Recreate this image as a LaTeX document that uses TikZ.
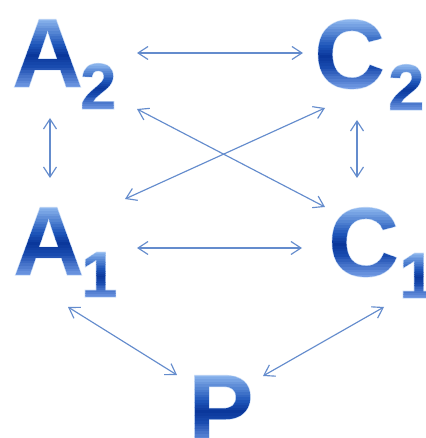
\documentclass[tikz,border=0pt]{standalone}
\usepackage{fontspec}
\setmainfont{Liberation Sans}
\usetikzlibrary{arrows.meta}
\definecolor{glyphsolid}{RGB}{40,95,190}
\definecolor{arrcol}{RGB}{100,140,205}
\newcommand\bigglyph{\fontsize{98}{98}\selectfont\bfseries}
\newcommand\smallglyph{\fontsize{65}{65}\selectfont\bfseries}
% piecewise-linear channel: #1 = t, #2..#6 = values at t = 0, .3, .45, .6, 1
\newcommand\gchan[6]{%
  \pgfmathsetmacro\gres{((#1<0.3) ? (#2+(#3-#2)*#1/0.3) : ((#1<0.45) ? (#3+(#4-#3)*(#1-0.3)/0.15) : ((#1<0.6) ? (#4+(#5-#4)*(#1-0.45)/0.15) : (#5+(#6-#5)*(#1-0.6)/0.4))))/255}}
% horizontal colour bands (PDF operators): #1 macro, #2 x left, #3 width, #4 glyph height (bp)
\newcommand\mkbands[4]{%
  \gdef#1{}%
  \foreach \k in {0,...,29}{%
    \pgfmathsetmacro\gy{-4+\k*(#4+8)/30}%
    \pgfmathsetmacro\gh{(#4+8)/30+0.4}%
    \pgfmathsetmacro\gt{(\gy+\gh/2)/#4}%
    \gchan{\gt}{115}{25}{10}{30}{150}\let\grr\gres
    \gchan{\gt}{155}{75}{55}{85}{190}\let\ggn\gres
    \gchan{\gt}{228}{175}{155}{185}{242}\let\gbb\gres
    \xdef#1{#1 \grr\space\ggn\space\gbb\space rg #2 \gy\space #3 \gh\space re f}%
  }}
\mkbands{\bandsbig}{-88}{95}{70}
\mkbands{\bandssmall}{-48}{55}{46.4}
\newcommand\gradglyph[2]{\special{x:gsave}\special{pdf:literal direct 0.80 0.87 0.97 RG 1.3 w 6 Tr}#1\special{pdf:content #2}\special{x:grestore}}
\begin{document}
\begin{tikzpicture}[x=1pt,y=1pt,
  big/.style={font=\bigglyph, text=glyphsolid, inner sep=0pt, anchor=base west},
  small/.style={font=\smallglyph, text=glyphsolid, inner sep=0pt, anchor=base west},
  conn/.style={draw=arrcol, line width=1.15pt,
    {Straight Barb[length=10pt,width=13pt]}-{Straight Barb[length=10pt,width=13pt]}}]
\useasboundingbox (0,0) rectangle (425,438);
\fill[white] (0,0) rectangle (425,438);
% labels
\node[big]   (A2)  at (12,351)  {\gradglyph{A}{\bandsbig}};
\node[small] (A2s) at (80,329)  {\gradglyph{2}{\bandssmall}};
\node[big]   (C2)  at (314,350) {\gradglyph{C}{\bandsbig}};
\node[small] (C2s) at (388,328) {\gradglyph{2}{\bandssmall}};
\node[big]   (A1)  at (13,163)  {\gradglyph{A}{\bandsbig}};
\node[small] (A1s) at (81,141)  {\gradglyph{1}{\bandssmall}};
\node[big]   (C1)  at (328,162) {\gradglyph{C}{\bandsbig}};
\node[small] (C1s) at (399,140) {\gradglyph{1}{\bandssmall}};
\node[big]   (P)   at (188,-5)  {\gradglyph{P}{\bandsbig}};
% connector ends
\coordinate (a2r) at (137,385); \coordinate (c2l) at (303,385);
\coordinate (a2b) at (50,320);  \coordinate (a1t) at (50,260);
\coordinate (c2b) at (357,318); \coordinate (c1t) at (357,260);
\coordinate (a2d) at (137,329); \coordinate (c1d) at (325,231);
\coordinate (a1d) at (125,239); \coordinate (c2d) at (325,330);
\coordinate (a1r) at (137,190); \coordinate (c1l) at (302,190);
\coordinate (a1p) at (68,131);  \coordinate (pa)  at (177,63);
\coordinate (c1p) at (384,131); \coordinate (pc)  at (263,62);
\draw[conn] (a2r) -- (c2l);
\draw[conn] (a2b) -- (a1t);
\draw[conn] (c2b) -- (c1t);
\draw[conn] (a2d) -- (c1d);
\draw[conn] (a1d) -- (c2d);
\draw[conn] (a1r) -- (c1l);
\draw[conn] (a1p) -- (pa);
\draw[conn] (c1p) -- (pc);
\end{tikzpicture}
\end{document}
